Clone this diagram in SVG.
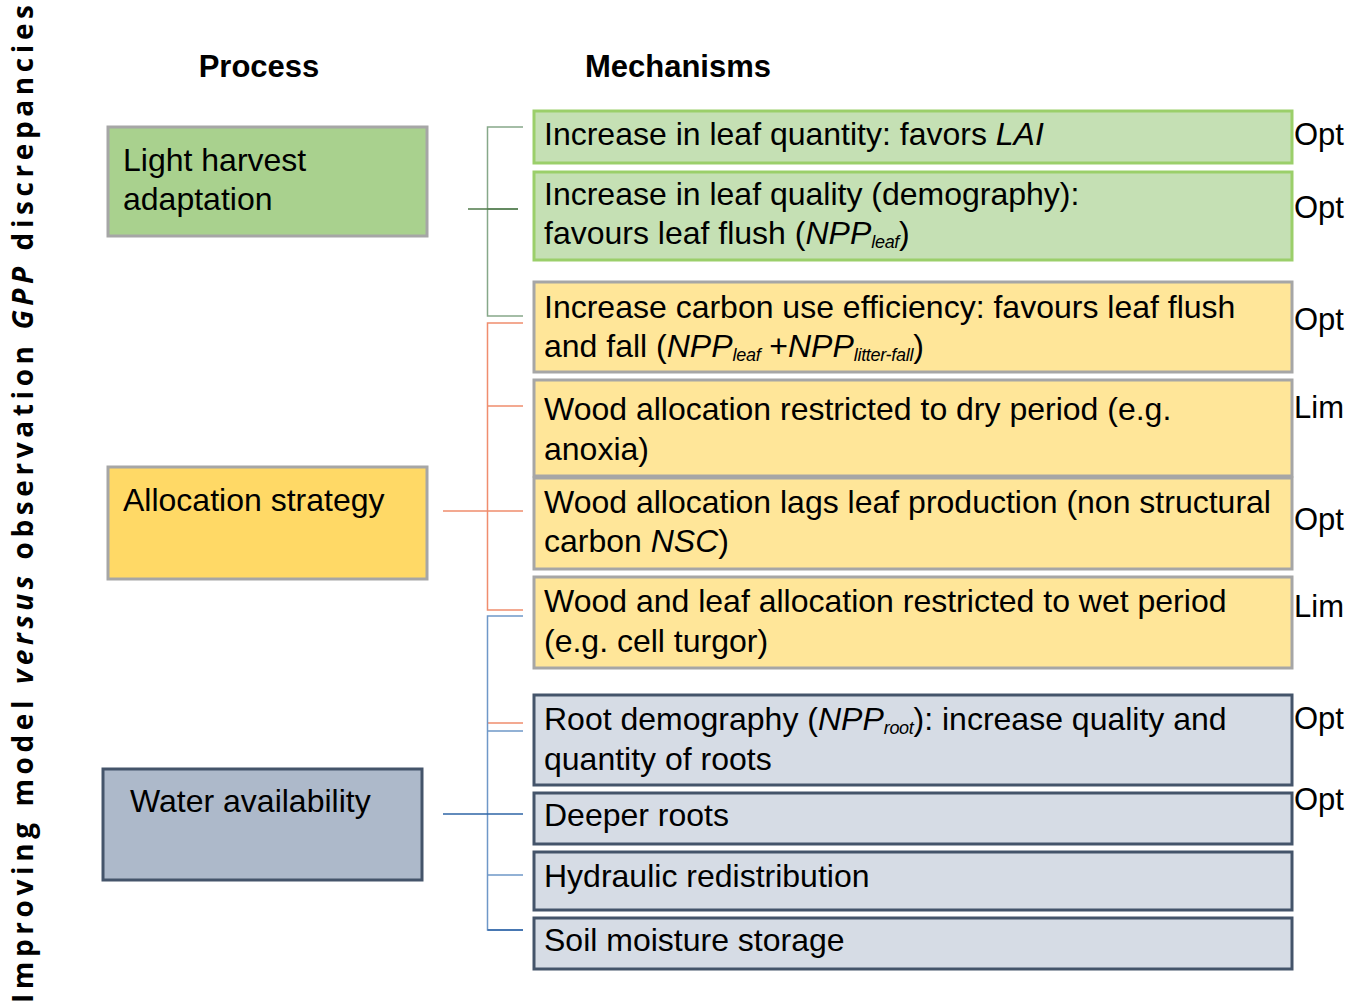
<svg xmlns="http://www.w3.org/2000/svg" width="1365" height="1007" viewBox="0 0 1365 1007">
  <style>
    text { font-family: "Liberation Sans", Arial, sans-serif; fill: #000; }
    .head { font-size: 31px; font-weight: bold; }
    .t { font-size: 32px; }
    .it { font-style: italic; }
    .sub { font-size: 18px; font-style: italic; letter-spacing: -0.3px; }
    .lab { font-size: 31px; }
    .side { font-family: "Open Sans", "Liberation Sans", sans-serif; font-size: 28px; font-weight: bold; }
    .pg { fill: #a9d18e; stroke: #a6a6a6; stroke-width: 3; }
    .po { fill: #ffd966; stroke: #a6a6a6; stroke-width: 3; }
    .pb { fill: #adb9ca; stroke: #44546a; stroke-width: 3; }
    .mg { fill: #c5e0b4; stroke: #9bcf6a; stroke-width: 3; }
    .mo { fill: #ffe699; stroke: #a6a6a6; stroke-width: 3; }
    .mb { fill: #d6dce5; stroke: #44546a; stroke-width: 3; }
    .cg { stroke: #86a889; stroke-width: 1.5; fill: none; }
    .co { stroke: #f08d6e; stroke-width: 1.5; fill: none; }
    .cb { stroke: #6f98c8; stroke-width: 1.5; fill: none; }
  </style>

  <rect width="1365" height="1007" fill="#ffffff"/>

  <!-- rotated axis title -->
  <text class="side" transform="translate(33,1003) rotate(-90)" x="0" y="0" textLength="998" lengthAdjust="spacing">Improving model <tspan font-style="italic">versus</tspan> observation <tspan font-style="italic">GPP</tspan> discrepancies</text>

  <!-- column headings -->
  <text class="head" x="259" y="77" text-anchor="middle">Process</text>
  <text class="head" x="678" y="77" text-anchor="middle">Mechanisms</text>

  <!-- connectors -->
  <g id="connectors">
    <!-- light harvest bracket -->
    <path class="cg" d="M523,127 H487.5 V316 H523 M487.5,209 H518"/>
    <path d="M468,209 H518" stroke="#4f7a4a" stroke-width="1.5"/>
    <!-- allocation bracket -->
    <path class="co" d="M523,323 H487.5 V610 H523 M487.5,406 H523 M443,511 H523 M487.5,723 H523"/>
    <!-- water bracket -->
    <path class="cb" d="M523,616 H487.5 V930 H523 M487.5,731 H523 M487.5,875 H523"/>
    <path d="M443,814 H523" stroke="#2e64a6" stroke-width="1.5"/>
    <path d="M487.5,930 H523" stroke="#2e64a6" stroke-width="1.5"/>
  </g>

  <!-- process nodes -->
  <g id="proc-light">
    <rect class="pg" x="108" y="127" width="319" height="109"/>
    <text class="t" x="123" y="171">Light harvest</text>
    <text class="t" x="123" y="210">adaptation</text>
  </g>
  <g id="proc-alloc">
    <rect class="po" x="108" y="467" width="319" height="112"/>
    <text class="t" x="123" y="511">Allocation strategy</text>
  </g>
  <g id="proc-water">
    <rect class="pb" x="103" y="769" width="319" height="111"/>
    <text class="t" x="130" y="812">Water availability</text>
  </g>

  <!-- mechanism nodes -->
  <g id="mech-leaf-quantity">
    <rect class="mg" x="534" y="111" width="758" height="52"/>
    <text class="t" x="544" y="145">Increase in leaf quantity: favors <tspan class="it">LAI</tspan></text>
    <text class="lab" x="1294" y="145">Opt</text>
  </g>
  <g id="mech-leaf-quality">
    <rect class="mg" x="534" y="172" width="758" height="88"/>
    <text class="t" x="544" y="205">Increase in leaf quality (demography):</text>
    <text class="t" x="544" y="244">favours leaf flush (<tspan class="it">NPP</tspan><tspan class="sub" dy="4">leaf</tspan><tspan dy="-4">)</tspan></text>
    <text class="lab" x="1294" y="218">Opt</text>
  </g>
  <g id="mech-cue">
    <rect class="mo" x="534" y="282" width="758" height="90"/>
    <text class="t" x="544" y="318">Increase carbon use efficiency: favours leaf flush</text>
    <text class="t" x="544" y="357">and fall (<tspan class="it">NPP</tspan><tspan class="sub" dy="4">leaf</tspan><tspan dy="-4"> +</tspan><tspan class="it">NPP</tspan><tspan class="sub" dy="4">litter-fall</tspan><tspan dy="-4">)</tspan></text>
    <text class="lab" x="1294" y="330">Opt</text>
  </g>
  <g id="mech-wood-dry">
    <rect class="mo" x="534" y="380" width="758" height="96"/>
    <text class="t" x="544" y="420">Wood allocation restricted to dry period (e.g.</text>
    <text class="t" x="544" y="460">anoxia)</text>
    <text class="lab" x="1294" y="418">Lim</text>
  </g>
  <g id="mech-wood-lag">
    <rect class="mo" x="534" y="478" width="758" height="91"/>
    <text class="t" x="544" y="513">Wood allocation lags leaf production (non structural</text>
    <text class="t" x="544" y="552">carbon <tspan class="it">NSC</tspan>)</text>
    <text class="lab" x="1294" y="530">Opt</text>
  </g>
  <g id="mech-wet">
    <rect class="mo" x="534" y="577" width="758" height="91"/>
    <text class="t" x="544" y="612">Wood and leaf allocation restricted to wet period</text>
    <text class="t" x="544" y="652">(e.g. cell turgor)</text>
    <text class="lab" x="1294" y="617">Lim</text>
  </g>
  <g id="mech-root-demography">
    <rect class="mb" x="534" y="695" width="758" height="90"/>
    <text class="t" x="544" y="730">Root demography (<tspan class="it">NPP</tspan><tspan class="sub" dy="4">root</tspan><tspan dy="-4">): increase quality and</tspan></text>
    <text class="t" x="544" y="770">quantity of roots</text>
    <text class="lab" x="1294" y="729">Opt</text>
  </g>
  <g id="mech-deeper-roots">
    <rect class="mb" x="534" y="793" width="758" height="51"/>
    <text class="t" x="544" y="826">Deeper roots</text>
    <text class="lab" x="1294" y="810">Opt</text>
  </g>
  <g id="mech-hydraulic">
    <rect class="mb" x="534" y="852" width="758" height="58"/>
    <text class="t" x="544" y="887">Hydraulic redistribution</text>
  </g>
  <g id="mech-soil-moisture">
    <rect class="mb" x="534" y="918" width="758" height="51"/>
    <text class="t" x="544" y="951">Soil moisture storage</text>
  </g>
</svg>
